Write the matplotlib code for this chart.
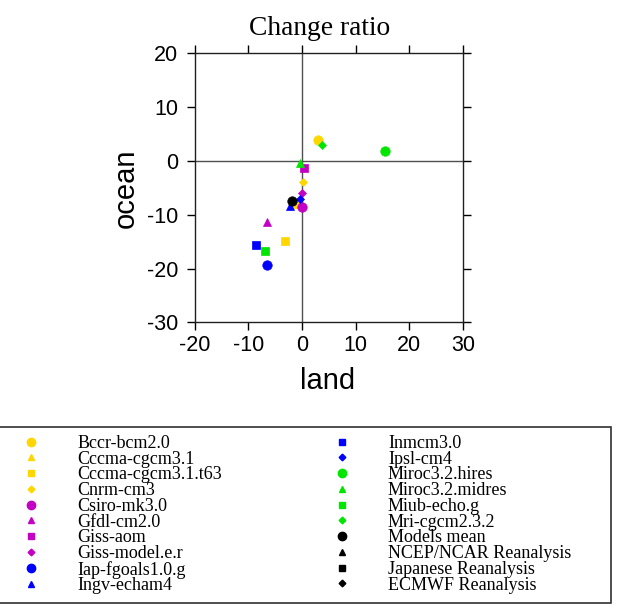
import numpy as np
import matplotlib
matplotlib.use("Agg")
import matplotlib.pyplot as plt
from matplotlib.lines import Line2D
from matplotlib.patches import Rectangle

plt.rcParams['axes.unicode_minus'] = False

models = ["Bccr-bcm2.0", "Cccma-cgcm3.1", "Cccma-cgcm3.1.t63", "Cnrm-cm3",
          "Csiro-mk3.0", "Gfdl-cm2.0", "Giss-aom", "Giss-model.e.r",
          "Iap-fgoals1.0.g", "Ingv-echam4", "Inmcm3.0", "Ipsl-cm4",
          "Miroc3.2.hires", "Miroc3.2.midres", "Miub-echo.g", "Mri-cgcm2.3.2",
          "Models mean", "NCEP/NCAR Reanalysis", "Japanese Reanalysis", "ECMWF Reanalysis"]
land = [3.0, -1.0, -3.2, 0.2,
        0.0, -6.5, 0.4, 0.0,
        -6.5, -2.2, -8.6, -0.4,
        15.5, -0.3, -6.9, 3.7,
        -1.8, np.nan, np.nan, np.nan]
ocean = [3.8, -8.0, -14.9, -4.0,
         -8.5, -11.4, -1.3, -5.9,
         -19.4, -8.3, -15.6, -7.1,
         1.8, -0.4, -16.8, 3.0,
         -7.4, np.nan, np.nan, np.nan]
colors = ["#FFD700"] * 4 + ["#C400C4"] * 4 + ["#0000FF"] * 4 + ["#00E600"] * 4 + ["#000000"] * 4
markers = ["o", "^", "s", "D"] * 5
msizes = {"o": 6.8, "^": 5.2, "s": 5.2, "D": 3.8}
leg_msizes = {"o": 6.0, "^": 4.2, "s": 4.8, "D": 3.4}

xticks = [-20, -10, 0, 10, 20, 30]
yticks = [-30, -20, -10, 0, 10, 20]

W, H = 625, 611
fig = plt.figure(figsize=(W / 100, H / 100), dpi=100)
ax = fig.add_axes([194.7 / W, 1 - 322.3 / H, 268.3 / W, 269.0 / H])

ax.axhline(0, color="#505050", lw=1.0, zorder=1)
ax.axvline(0, color="#505050", lw=1.0, zorder=1)

for i in range(len(models)):
    m = markers[i]
    ax.plot([land[i]], [ocean[i]], linestyle="none", marker=m, ms=msizes[m],
            color=colors[i], mec=colors[i], mew=0.5, zorder=3)

ax.set_xlim(-20, 30)
ax.set_ylim(-30, 20)
ax.set_xticks(xticks)
ax.set_yticks(yticks)
ax.set_xticklabels([str(t) for t in xticks])
ax.set_yticklabels([str(t) for t in yticks])
ax.tick_params(direction="out", length=6, width=1, top=True, right=True,
               labelsize=15.5, colors="black")
ax.tick_params(axis="x", pad=3)
ax.tick_params(axis="y", pad=6)
for lab in ax.get_xticklabels() + ax.get_yticklabels():
    lab.set_fontfamily("Liberation Sans")
for s in ax.spines.values():
    s.set_linewidth(1.0)
    s.set_color("#202020")

ax.set_xlabel("land", fontsize=21, fontfamily="Liberation Sans")
ax.set_ylabel("ocean", fontsize=21, fontfamily="Liberation Sans")
ax.xaxis.set_label_coords(0.497, -0.168)
ax.yaxis.set_label_coords(-0.205, 0.5)

fig.text(320 / W, 1 - 35 / H, "Change ratio", fontsize=19.8,
         fontfamily="Liberation Serif", ha="center", va="baseline")

handles = [Line2D([], [], linestyle="none", marker=markers[i], ms=leg_msizes[markers[i]],
                  color=colors[i], mec=colors[i]) for i in range(len(models))]
leg = fig.legend(handles, models, ncol=2, loc="upper left",
                 bbox_to_anchor=(13 / W, 1 - 435 / H), bbox_transform=fig.transFigure,
                 frameon=False, borderpad=0, borderaxespad=0,
                 prop={"family": "Liberation Serif", "size": 13},
                 handlelength=2.0, handletextpad=1.55, labelspacing=-0.07,
                 columnspacing=5.65)

fig.patches.append(Rectangle((-2 / W, 1 - 603 / H), 612.7 / W, 176 / H,
                             transform=fig.transFigure, fill=False,
                             edgecolor="#303030", lw=1.2))

fig.savefig("out.png", dpi=100)
